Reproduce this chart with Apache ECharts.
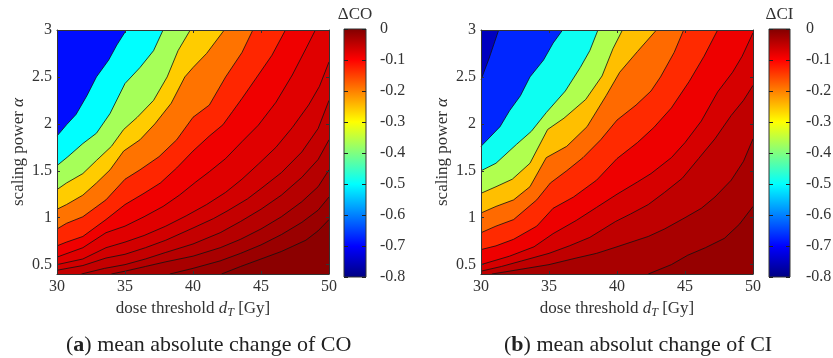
<!DOCTYPE html>
<html><head><meta charset="utf-8">
<script src="https://cdn.jsdelivr.net/npm/echarts@6/dist/echarts.min.js"></script>
<style>html,body{margin:0;padding:0;background:#fff}#c{width:833px;height:358px}</style>
</head><body><div id="c"></div>
<script>
// ---------- data ----------
const xRange = [30, 50];
const yRange = [0.4, 3];
const xTicks = [30, 35, 40, 45, 50];
const yTicks = [0.5, 1, 1.5, 2, 2.5, 3];
const cbRange = [-0.8, 0];

// contour lines of Delta CO, each a list of [dose, alpha] points
const coLines = [
  [[30,1.87],[30.7,1.99],[31.4,2.1],[32.2,2.3],[32.9,2.5],[33.8,2.68],[34.4,2.84],[35.1,3]],
  [[30,1.555],[30.8,1.65],[31.9,1.79],[32.9,1.9],[33.9,2.11],[35,2.43],[36.1,2.6],[37.1,2.78],[37.8,3]],
  [[30,1.3],[30.7,1.37],[31.9,1.47],[32.9,1.61],[34,1.76],[34.9,1.94],[35.9,2.07],[37.1,2.25],[38.1,2.5],[38.9,2.78],[39.8,3]],
  [[30,1.09],[30.7,1.14],[31.9,1.24],[32.9,1.37],[33.9,1.51],[34.9,1.71],[36.1,1.83],[37.2,2.0],[38.4,2.22],[39.4,2.5],[40,2.6],[41,2.75],[42.3,3]],
  [[30,0.88],[30.7,0.94],[31.9,1.01],[33.6,1.19],[35,1.41],[36.1,1.51],[37.5,1.65],[38.8,1.83],[40,2.07],[41.2,2.2],[42.4,2.5],[43.6,2.76],[44.4,3]],
  [[30,0.7],[30.7,0.74],[31.9,0.8],[33.6,0.98],[35,1.14],[36.4,1.26],[37.6,1.37],[38.8,1.53],[40,1.71],[41.2,1.87],[42.2,1.99],[42.9,2.13],[43.6,2.27],[44.8,2.52],[45.8,2.73],[46.8,3]],
  [[30,0.58],[31.9,0.68],[33.6,0.84],[35,0.91],[36.4,1.01],[37.8,1.12],[39,1.24],[40.2,1.38],[41.2,1.49],[42.4,1.63],[43.6,1.81],[44.8,1.985],[46.1,2.23],[47.3,2.52],[48.3,2.8],[49,3]],
  [[30,0.5],[31.9,0.56],[33.6,0.68],[35,0.74],[36.4,0.81],[38,0.91],[39.5,1.02],[41,1.14],[42.4,1.27],[43.6,1.41],[44.8,1.57],[46.1,1.75],[47.3,1.96],[48.5,2.2],[49.3,2.4],[50,2.66]],
  [[30,0.44],[31.9,0.49],[33.6,0.57],[35,0.61],[36.5,0.68],[38,0.76],[40,0.89],[41.5,0.99],[42.5,1.07],[44,1.2],[45,1.31],[46.5,1.48],[48,1.7],[49.2,1.95],[50,2.25]],
  [[31.8,0.4],[33.5,0.46],[35,0.5],[36.5,0.56],[38,0.63],[40,0.72],[42,0.84],[43.5,0.96],[45,1.09],[46.5,1.24],[48,1.43],[49.2,1.62],[50,1.83]],
  [[34,0.4],[35,0.43],[36.5,0.48],[38,0.53],[40,0.59],[42,0.68],[43.5,0.77],[45,0.88],[46.5,1.01],[48,1.17],[49.2,1.33],[50,1.51]],
  [[38.3,0.4],[40,0.46],[42,0.54],[43.5,0.62],[45,0.71],[46.5,0.82],[48,0.95],[49.2,1.08],[50,1.22]],
  [[42.1,0.4],[43.5,0.48],[45,0.56],[46.5,0.64],[48.3,0.76],[49.2,0.86],[50,0.98]]
];
// value of each filled band (top-left band first)
const coBandValues = [-0.69, -0.5, -0.37, -0.26, -0.19, -0.13, -0.088, -0.076, -0.065, -0.054, -0.043, -0.032, -0.021, -0.01];

// contour lines of Delta CI
const ciLines = [
  [[30,2.47],[30.6,2.7],[31.3,3]],
  [[30,1.76],[30.6,1.85],[31.4,1.97],[32.1,2.14],[32.9,2.3],[33.6,2.5],[34.6,2.68],[35.3,2.86],[36,3]],
  [[30,1.5],[31.1,1.58],[32.6,1.78],[33.7,1.92],[34.8,2.12],[36.2,2.35],[37.3,2.6],[38,2.78],[38.6,3]],
  [[30,1.26],[31.1,1.33],[32.3,1.41],[33.6,1.58],[34.9,1.94],[36.1,2.06],[37.7,2.26],[38.9,2.51],[39.7,2.8],[40.4,3]],
  [[30,1.05],[31.1,1.12],[32.4,1.19],[33.6,1.33],[34.8,1.64],[36.3,1.76],[37.8,1.97],[39.2,2.3],[40.2,2.55],[41.5,2.77],[42.9,3]],
  [[30,0.84],[31.1,0.91],[32.4,0.98],[34.1,1.19],[35.1,1.37],[36.3,1.5],[37.5,1.64],[38.8,1.83],[40,2.04],[41.4,2.2],[42.5,2.35],[43.2,2.5],[44.2,2.76],[44.9,3]],
  [[30,0.66],[31.1,0.7],[32.4,0.77],[34.1,0.91],[35.3,1.1],[36.8,1.22],[38.5,1.4],[40,1.63],[41.5,1.8],[42.7,1.96],[44,2.17],[45.3,2.45],[46.4,2.72],[47.4,3]],
  [[30,0.5],[32.1,0.59],[33.9,0.69],[35.3,0.83],[37,0.97],[38.5,1.11],[40,1.25],[41.5,1.38],[42.5,1.47],[44,1.64],[45,1.8],[46.2,2.03],[47.4,2.34],[48.5,2.55],[49.2,2.72],[50,2.97]],
  [[30,0.43],[31.5,0.48],[33,0.54],[35,0.62],[36.5,0.7],[38,0.79],[39.9,0.96],[41,1.04],[42.3,1.14],[43.5,1.27],[44.8,1.42],[46,1.63],[47.2,1.84],[48.4,2.09],[49.3,2.25],[50,2.41]],
  [[30.8,0.4],[32.5,0.44],[35,0.5],[37,0.57],[38.5,0.62],[40,0.69],[42.3,0.8],[43.5,0.88],[45,1.0],[46.2,1.1],[47.2,1.22],[48.4,1.4],[49.3,1.6],[50,1.84]],
  [[42.3,0.4],[44,0.5],[45.2,0.6],[46.5,0.68],[47.9,0.78],[49,0.93],[50,1.12]]
];
const ciBandValues = [-0.75, -0.67, -0.49, -0.362, -0.25, -0.183, -0.133, -0.087, -0.068, -0.05, -0.032, -0.018];

// ---------- helpers ----------
const FONT = '"Liberation Serif","DejaVu Serif",serif';
const TXT = '#333';
function clamp(v){ return Math.max(0, Math.min(1, v)); }
function jetT(t){
  const r = clamp(Math.min(4*t-1.5, -4*t+4.5));
  const g = clamp(Math.min(4*t-0.5, -4*t+3.5));
  const b = clamp(Math.min(4*t+0.5, -4*t+2.5));
  return 'rgb(' + Math.round(r*255) + ',' + Math.round(g*255) + ',' + Math.round(b*255) + ')';
}
function jet(v){ return jetT((v - cbRange[0]) / (cbRange[1] - cbRange[0])); }

function regionPoly(line){
  const pts = line.slice();
  const s = line[0], e = line[line.length-1];
  if (e[1] >= yRange[1] - 1e-9 && e[0] < xRange[1]) pts.push([xRange[1], yRange[1]]);
  pts.push([xRange[1], yRange[0]]);
  if (s[0] <= xRange[0] + 1e-9 && s[1] > yRange[0]) pts.push([xRange[0], yRange[0]]);
  return pts;
}

function contourSeries(lines, bandVals, xi, yi){
  const polys = [[[xRange[0],yRange[0]],[xRange[1],yRange[0]],[xRange[1],yRange[1]],[xRange[0],yRange[1]]]]
    .concat(lines.map(regionPoly));
  const fill = {
    type: 'custom', xAxisIndex: xi, yAxisIndex: yi, silent: true, animation: false, z: 1,
    data: polys.map((p, i) => [xRange[0], yRange[0], i]),
    renderItem: function(params, api){
      const i = params.dataIndex;
      return { type: 'polygon', shape: { points: polys[i].map(p => api.coord(p)) },
               style: { fill: jet(bandVals[i]), stroke: null } };
    }
  };
  const ls = lines.map(l => ({
    type: 'line', xAxisIndex: xi, yAxisIndex: yi, data: l, symbol: 'none', silent: true,
    animation: false, z: 3, lineStyle: { color: '#111', width: 0.8 }
  }));
  return [fill].concat(ls);
}

function colorbarSeries(xi, yi){
  const stops = [0, 0.125, 0.375, 0.625, 0.875, 1].map(t => ({ offset: t, color: jetT(t) }));
  return {
    type: 'custom', xAxisIndex: xi, yAxisIndex: yi, silent: true, animation: false, z: 1,
    data: [[0, cbRange[1], 1, cbRange[0]]],
    renderItem: function(params, api){
      const p1 = api.coord([api.value(0), api.value(1)]);
      const p2 = api.coord([api.value(2), api.value(3)]);
      return { type: 'rect', shape: { x: p1[0], y: p1[1], width: p2[0]-p1[0], height: p2[1]-p1[1] },
               style: { fill: new echarts.graphic.LinearGradient(0, 1, 0, 0, stops), stroke: '#333', lineWidth: 1 } };
    }
  };
}

const lineSty = { color: '#333', width: 1 };
function xAx(gi, pos, withLabel){
  const a = {
    gridIndex: gi, type: 'value', position: pos, min: xRange[0], max: xRange[1], interval: 5, z: 10,
    axisLine: { show: true, onZero: false, lineStyle: lineSty },
    axisTick: { show: true, inside: true, length: 3, lineStyle: lineSty },
    axisLabel: { show: withLabel, fontFamily: FONT, fontSize: 16, color: TXT, margin: 5 },
    splitLine: { show: false }
  };
  if (withLabel){
    a.name = 'dose threshold {i|d}{s|T} [Gy]';
    a.nameLocation = 'middle';
    a.nameGap = 20;
    a.nameTextStyle = { fontFamily: FONT, fontSize: 17, color: TXT,
      rich: { i: { fontFamily: FONT, fontSize: 17, fontStyle: 'italic', color: TXT },
              s: { fontFamily: FONT, fontSize: 12, fontStyle: 'italic', color: TXT, padding: [8,0,0,0] } } };
  }
  return a;
}
function yAx(gi, pos, withLabel){
  const a = {
    gridIndex: gi, type: 'value', position: pos, min: yRange[0], max: yRange[1], z: 10,
    axisLine: { show: true, onZero: false, lineStyle: lineSty },
    axisTick: { show: true, inside: true, length: 3, lineStyle: lineSty, customValues: yTicks },
    axisLabel: { show: withLabel, fontFamily: FONT, fontSize: 16, color: TXT, margin: 5, customValues: yTicks },
    splitLine: { show: false }
  };
  if (withLabel){
    a.name = 'scaling power {i|α}';
    a.nameLocation = 'middle';
    a.nameGap = 30;
    a.nameTextStyle = { fontFamily: FONT, fontSize: 17, color: TXT,
      rich: { i: { fontFamily: FONT, fontSize: 17, fontStyle: 'italic', color: TXT } } };
  }
  return a;
}
function cbX(gi, title){
  return { gridIndex: gi, type: 'value', position: 'top', min: 0, max: 1, z: 10,
    axisLine: { show: false }, axisTick: { show: false }, axisLabel: { show: false }, splitLine: { show: false },
    name: title, nameLocation: 'middle', nameGap: 6,
    nameTextStyle: { fontFamily: FONT, fontSize: 17, color: TXT } };
}
function cbY(gi, pos, withLabel, margin){
  return { gridIndex: gi, type: 'value', position: pos, min: cbRange[0], max: cbRange[1], interval: 0.1, z: 10,
    axisLine: { show: false, onZero: false },
    axisTick: { show: true, inside: true, length: 4, lineStyle: { color: '#222', width: 1 } },
    axisLabel: { show: withLabel, fontFamily: FONT, fontSize: 16, color: TXT, margin: margin,
      formatter: v => (Math.abs(v) < 1e-9 ? '0' : (Math.round(v*10)/10).toString()) },
    splitLine: { show: false } };
}

function caption(left, letter, text){
  return {
    text: '({b|' + letter + '}) ' + text, left: left, top: 334, padding: 0,
    textStyle: { fontFamily: FONT, fontSize: 22, fontWeight: 'normal', color: '#222',
      rich: { b: { fontFamily: FONT, fontSize: 22, fontWeight: 'bold', color: '#222' } } }
  };
}

const chart = echarts.init(document.getElementById('c'), null, { renderer: 'canvas', devicePixelRatio: 1 });
chart.setOption({
  backgroundColor: '#fff',
  animation: false,
  title: [
    caption(66, 'a', 'mean absolute change of CO'),
    caption(504, 'b', 'mean absolut change of CI')
  ],
  grid: [
    { left: 57, top: 30, width: 272, height: 244, outerBoundsMode: 'none' },
    { left: 481, top: 30, width: 272, height: 244, outerBoundsMode: 'none' },
    { left: 344, top: 29, width: 22, height: 248, outerBoundsMode: 'none' },
    { left: 769, top: 29, width: 21, height: 248, outerBoundsMode: 'none' }
  ],
  xAxis: [ xAx(0,'bottom',true), xAx(0,'top',false), xAx(1,'bottom',true), xAx(1,'top',false),
           cbX(2,'ΔCO'), cbX(3,'ΔCI') ],
  yAxis: [ yAx(0,'left',true), yAx(0,'right',false), yAx(1,'left',true), yAx(1,'right',false),
           cbY(2,'left',false,0), cbY(2,'right',true,14), cbY(3,'left',false,0), cbY(3,'right',true,16) ],
  series: []
    .concat(contourSeries(coLines, coBandValues, 0, 0))
    .concat(contourSeries(ciLines, ciBandValues, 2, 2))
    .concat([colorbarSeries(4, 4), colorbarSeries(5, 6)])
});
</script></body></html>
